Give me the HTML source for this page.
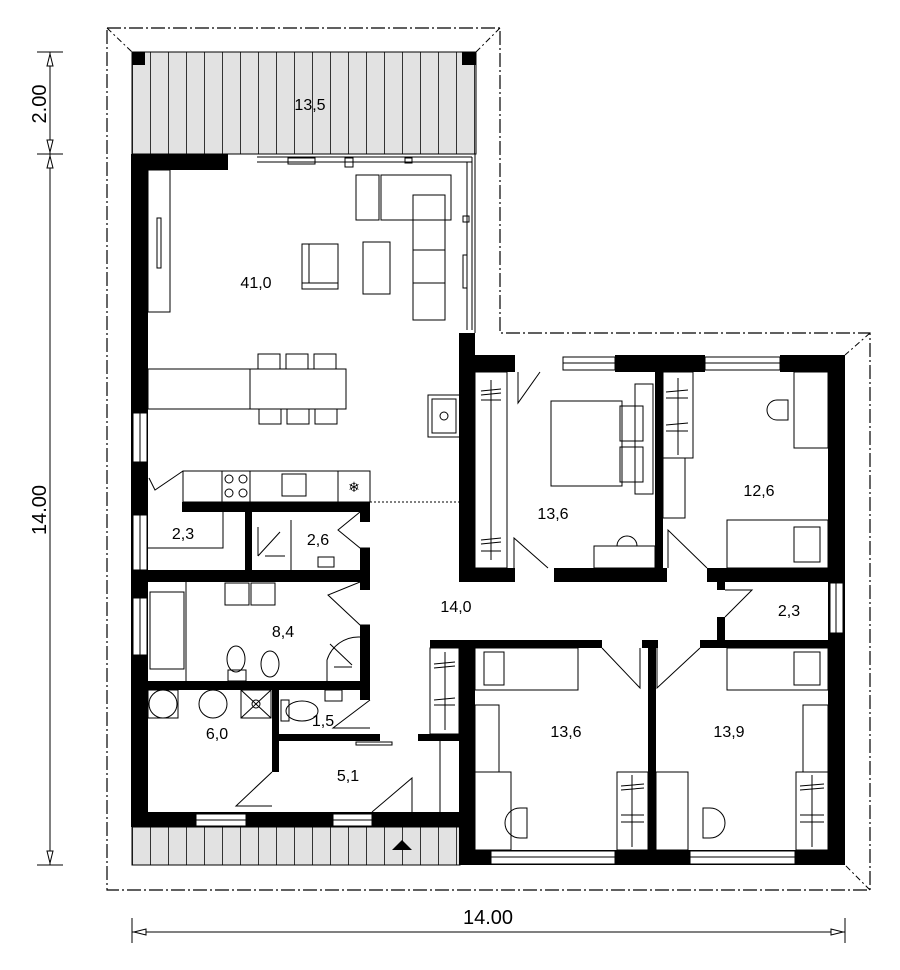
<!DOCTYPE html>
<html><head><meta charset="utf-8"><style>
html,body{margin:0;padding:0;background:#fff;}
svg{display:block;}
text{font-family:"Liberation Sans",sans-serif;fill:#000;}
</style></head><body>
<svg width="900" height="970" viewBox="0 0 900 970" xmlns="http://www.w3.org/2000/svg">
<defs>
<pattern id="deck" x="132" y="0" width="18" height="10" patternUnits="userSpaceOnUse">
<rect width="18" height="10" fill="#e2e2e2"/><line x1="0.5" y1="0" x2="0.5" y2="10" stroke="#333" stroke-width="1"/>
</pattern>
</defs>
<polyline points="107,28 500,28 500,333 870,333 870,890 107,890 107,28" fill="none" stroke="#000" stroke-width="1.2" stroke-dasharray="14,3,2,3"/>
<g stroke="#000" stroke-width="1" stroke-dasharray="6,3,2,3">
<line x1="107" y1="28" x2="132" y2="52"/><line x1="500" y1="28" x2="476" y2="52"/>
<line x1="870" y1="333" x2="845" y2="355"/><line x1="870" y1="890" x2="845" y2="865"/>
</g>
<rect x="132" y="52" width="344" height="102" fill="url(#deck)" stroke="#000" stroke-width="1"/>
<rect x="132" y="827" width="328" height="38" fill="url(#deck)" stroke="#000" stroke-width="1"/>
<rect x="132" y="52" width="13" height="13" fill="#000"/><rect x="462" y="52" width="14" height="13" fill="#000"/>
<polygon points="392,850 402,840 412,850" fill="#000"/>
<text x="310" y="110" font-size="16" text-anchor="middle">13,5</text>

<g fill="none" stroke="#000" stroke-width="1">
<line x1="475" y1="154" x2="475" y2="333"/>
<line x1="257" y1="157" x2="472" y2="157"/><line x1="257" y1="162" x2="472" y2="162"/>
<rect x="288" y="158" width="27" height="6"/><rect x="345" y="158" width="8" height="9"/><rect x="405" y="158" width="7" height="5"/>
<line x1="472" y1="157" x2="472" y2="330"/><line x1="467" y1="162" x2="467" y2="330"/>
<rect x="463" y="216" width="6" height="6"/><rect x="463" y="255" width="4" height="33"/>
<rect x="148" y="170" width="22" height="142"/><rect x="157" y="218" width="4" height="50"/>
<rect x="356" y="175" width="23" height="45"/><rect x="381" y="175" width="70" height="45"/>
<rect x="413" y="195" width="32" height="125"/><line x1="413" y1="250" x2="445" y2="250"/><line x1="413" y1="283" x2="445" y2="283"/>
<rect x="302" y="244" width="36" height="45"/><line x1="309" y1="244" x2="309" y2="283"/><line x1="302" y1="283" x2="338" y2="283"/>
<rect x="363" y="242" width="27" height="52"/>
<rect x="148" y="369" width="102" height="40"/><rect x="250" y="369" width="96" height="40"/>
<rect x="258" y="354" width="22" height="15"/><rect x="286" y="354" width="22" height="15"/><rect x="314" y="354" width="22" height="15"/>
<rect x="259" y="409" width="22" height="15"/><rect x="287" y="409" width="22" height="15"/><rect x="315" y="409" width="22" height="15"/>
<rect x="428" y="395" width="32" height="42"/><rect x="432" y="399" width="24" height="34"/><circle cx="444" cy="416" r="4"/>
<rect x="183" y="471" width="187" height="31"/><line x1="222" y1="471" x2="222" y2="502"/><line x1="250" y1="471" x2="250" y2="502"/><line x1="338" y1="471" x2="338" y2="502"/>
<circle cx="229" cy="479" r="4"/><circle cx="243" cy="479" r="4"/><circle cx="229" cy="493" r="4"/><circle cx="243" cy="493" r="4"/>
<rect x="282" y="474" width="24" height="22"/>
<text x="354" y="492" font-size="14" text-anchor="middle" stroke="none">❄</text>
<polyline points="183,471 155,490 149,478"/>
<line x1="370" y1="502" x2="459" y2="502" stroke-dasharray="2,2"/>
<polyline points="148,548 223,548 223,512"/>
<line x1="258" y1="556" x2="280" y2="532"/><line x1="258" y1="527" x2="258" y2="556"/><line x1="265" y1="556" x2="285" y2="556"/>
<line x1="291" y1="520" x2="291" y2="570"/><rect x="318" y="557" width="16" height="10"/>
<polyline points="370,512 360,512 338,530 360,548 370,548"/>
<rect x="150" y="592" width="34" height="77"/><line x1="186" y1="582" x2="186" y2="681"/>
<rect x="225" y="583" width="24" height="22"/><rect x="251" y="583" width="24" height="22"/>
<ellipse cx="236" cy="659" rx="9" ry="13"/><rect x="228" y="670" width="18" height="11"/>
<ellipse cx="270" cy="664" rx="9" ry="13"/>
<path d="M327,681 L327,660 A33,33 0 0 1 360,637"/><line x1="330" y1="644" x2="352" y2="665"/><line x1="334" y1="667" x2="352" y2="667"/>
<polyline points="370,582 360,582 328,595 360,625 370,625"/>
<rect x="148" y="690" width="30" height="28"/><circle cx="163" cy="704" r="14"/><circle cx="213" cy="704" r="14"/>
<rect x="241" y="690" width="30" height="28"/><line x1="241" y1="690" x2="271" y2="718"/><line x1="271" y1="690" x2="241" y2="718"/><circle cx="256" cy="704" r="4"/>
<polyline points="272,772 236,806 272,806"/>
<rect x="281" y="700" width="8" height="21"/><ellipse cx="302" cy="711" rx="16" ry="10"/>
<rect x="325" y="690" width="17" height="11"/>
<polyline points="370,700 333,728 370,728"/>
<rect x="356" y="742" width="36" height="3"/>
<polyline points="372,812 412,778 412,824"/>
<line x1="440" y1="741" x2="440" y2="812"/>
<rect x="430" y="648" width="29" height="86"/>
<line x1="445" y1="652" x2="445" y2="730"/>
<rect x="475" y="372" width="32" height="196"/><line x1="491" y1="380" x2="491" y2="560"/>
<polyline points="518,372 518,403 540,372"/>
<polyline points="514,568 514,538 548,568"/>
<rect x="551" y="401" width="71" height="85"/><rect x="620" y="406" width="23" height="35"/><rect x="620" y="447" width="23" height="35"/>
<rect x="635" y="384" width="18" height="110"/>
<rect x="594" y="546" width="61" height="22"/><path d="M617,546 A10,10 0 0 1 637,546"/>
<rect x="663" y="372" width="30" height="86"/><rect x="663" y="458" width="22" height="60"/><line x1="678" y1="378" x2="678" y2="455"/>
<rect x="794" y="372" width="34" height="76"/><path d="M781,420 L777,420 A10,10 0 0 1 777,400 L788,400 L788,420 Z"/>
<rect x="727" y="520" width="101" height="48"/><rect x="794" y="527" width="26" height="35"/>
<polyline points="707,568 668,530 668,568"/>
<polyline points="725,590 752,590 725,617"/>
<rect x="475" y="648" width="103" height="42"/><rect x="484" y="652" width="20" height="33"/>
<rect x="475" y="705" width="24" height="67"/><rect x="475" y="772" width="36" height="78"/>
<path d="M527,838 L520,838 A12,12 0 0 1 520,808 L527,808 Z"/>
<rect x="617" y="772" width="31" height="78"/><line x1="632" y1="775" x2="632" y2="847"/>
<polyline points="602,648 640,688 640,648"/>
<rect x="727" y="648" width="101" height="42"/><rect x="794" y="652" width="26" height="33"/>
<rect x="803" y="705" width="25" height="67"/><rect x="796" y="772" width="32" height="78"/><line x1="812" y1="775" x2="812" y2="847"/>
<rect x="656" y="772" width="32" height="78"/>
<path d="M703,838 L710,838 A12,12 0 0 0 710,808 L703,808 Z"/>
<polyline points="700,648 657,688 657,648"/>
</g>
<g stroke="#000" stroke-width="1">
<line x1="481" y1="391" x2="501" y2="389"/><line x1="481" y1="395" x2="501" y2="393"/><line x1="481" y1="400" x2="501" y2="400"/>
<line x1="481" y1="540" x2="501" y2="538"/><line x1="481" y1="544" x2="501" y2="542"/><line x1="481" y1="551" x2="501" y2="551"/>
<line x1="666" y1="392" x2="688" y2="390"/><line x1="666" y1="398" x2="688" y2="398"/><line x1="666" y1="425" x2="688" y2="423"/><line x1="666" y1="431" x2="688" y2="431"/>
<line x1="434" y1="664" x2="455" y2="662"/><line x1="434" y1="668" x2="455" y2="666"/><line x1="434" y1="700" x2="455" y2="698"/><line x1="434" y1="705" x2="455" y2="705"/>
<line x1="621" y1="786" x2="644" y2="784"/><line x1="621" y1="790" x2="644" y2="788"/><line x1="621" y1="815" x2="644" y2="815"/><line x1="621" y1="822" x2="644" y2="822"/>
<line x1="800" y1="786" x2="824" y2="784"/><line x1="800" y1="790" x2="824" y2="788"/><line x1="800" y1="815" x2="824" y2="815"/><line x1="800" y1="822" x2="824" y2="822"/>
</g>

<g fill="#000">
<rect x="131" y="154" width="97" height="16"/>
<rect x="131" y="154" width="17" height="673"/>
<rect x="459" y="333" width="16" height="245"/>
<rect x="459" y="355" width="56" height="17"/><rect x="615" y="355" width="90" height="17"/><rect x="780" y="355" width="65" height="17"/>
<rect x="828" y="355" width="17" height="510"/>
<rect x="655" y="372" width="8" height="206"/>
<rect x="459" y="568" width="56" height="14"/><rect x="554" y="568" width="113" height="14"/><rect x="707" y="568" width="123" height="14"/>
<rect x="717" y="582" width="8" height="8"/><rect x="717" y="617" width="8" height="31"/>
<rect x="430" y="640" width="172" height="8"/><rect x="642" y="640" width="16" height="8"/><rect x="700" y="640" width="130" height="8"/>
<rect x="648" y="640" width="8" height="225"/>
<rect x="459" y="640" width="16" height="225"/>
<rect x="459" y="850" width="386" height="15"/>
<rect x="182" y="502" width="188" height="10"/>
<rect x="245" y="502" width="7" height="78"/>
<rect x="360" y="512" width="10" height="10"/><rect x="360" y="548" width="10" height="42"/>
<rect x="148" y="570" width="222" height="12"/>
<rect x="360" y="625" width="10" height="65"/>
<rect x="148" y="681" width="222" height="9"/>
<rect x="272" y="690" width="7" height="82"/>
<rect x="360" y="690" width="10" height="10"/>
<rect x="279" y="734" width="101" height="7"/>
<rect x="418" y="734" width="42" height="7"/>
<rect x="131" y="812" width="329" height="15"/>
<rect x="420" y="812" width="40" height="15"/>
</g>
<g fill="#fff" stroke="#000" stroke-width="1">
<rect x="133" y="413" width="14" height="49"/><line x1="140" y1="413" x2="140" y2="462"/>
<rect x="133" y="515" width="14" height="55"/><line x1="140" y1="515" x2="140" y2="570"/>
<rect x="133" y="598" width="14" height="57"/><line x1="140" y1="598" x2="140" y2="655"/>
<rect x="196" y="814" width="50" height="12"/><line x1="196" y1="820" x2="246" y2="820"/>
<rect x="333" y="814" width="39" height="12"/><line x1="333" y1="820" x2="372" y2="820"/>
<rect x="563" y="357" width="52" height="13"/><line x1="563" y1="363" x2="615" y2="363"/>
<rect x="705" y="357" width="75" height="13"/><line x1="705" y1="363" x2="780" y2="363"/>
<rect x="830" y="583" width="13" height="50"/><line x1="836" y1="583" x2="836" y2="633"/>
<rect x="491" y="851" width="124" height="13"/><line x1="491" y1="857" x2="615" y2="857"/>
<rect x="690" y="851" width="105" height="13"/><line x1="690" y1="857" x2="795" y2="857"/>
</g>

<g font-size="16" text-anchor="middle">
<text x="256" y="288">41,0</text>
<text x="183" y="539">2,3</text>
<text x="318" y="545">2,6</text>
<text x="283" y="637">8,4</text>
<text x="456" y="612">14,0</text>
<text x="217" y="739">6,0</text>
<text x="323" y="726">1,5</text>
<text x="348" y="781">5,1</text>
<text x="553" y="519">13,6</text>
<text x="759" y="496">12,6</text>
<text x="789" y="616">2,3</text>
<text x="566" y="737">13,6</text>
<text x="729" y="737">13,9</text>
</g>

<g stroke="#000" stroke-width="1" fill="none">
<line x1="50" y1="52" x2="50" y2="865"/>
<line x1="37" y1="52" x2="63" y2="52"/><line x1="37" y1="154" x2="63" y2="154"/><line x1="37" y1="865" x2="63" y2="865"/>
<line x1="132" y1="932" x2="845" y2="932"/>
<line x1="132" y1="918" x2="132" y2="943"/><line x1="845" y1="918" x2="845" y2="943"/>
</g>
<g fill="#fff" stroke="#000" stroke-width="1">
<polygon points="50,54 47,66 53,66"/><polygon points="50,152 47,140 53,140"/>
<polygon points="50,156 47,168 53,168"/><polygon points="50,863 47,851 53,851"/>
<polygon points="134,932 146,929 146,935"/><polygon points="843,932 831,929 831,935"/>
</g>
<g font-size="20">
<text transform="translate(46,104) rotate(-90)" text-anchor="middle" fill="#555">2.00</text>
<text transform="translate(46,510) rotate(-90)" text-anchor="middle" fill="#555">14.00</text>
<text x="488" y="924" text-anchor="middle" fill="#555">14.00</text>
</g>
</svg>
</body></html>
